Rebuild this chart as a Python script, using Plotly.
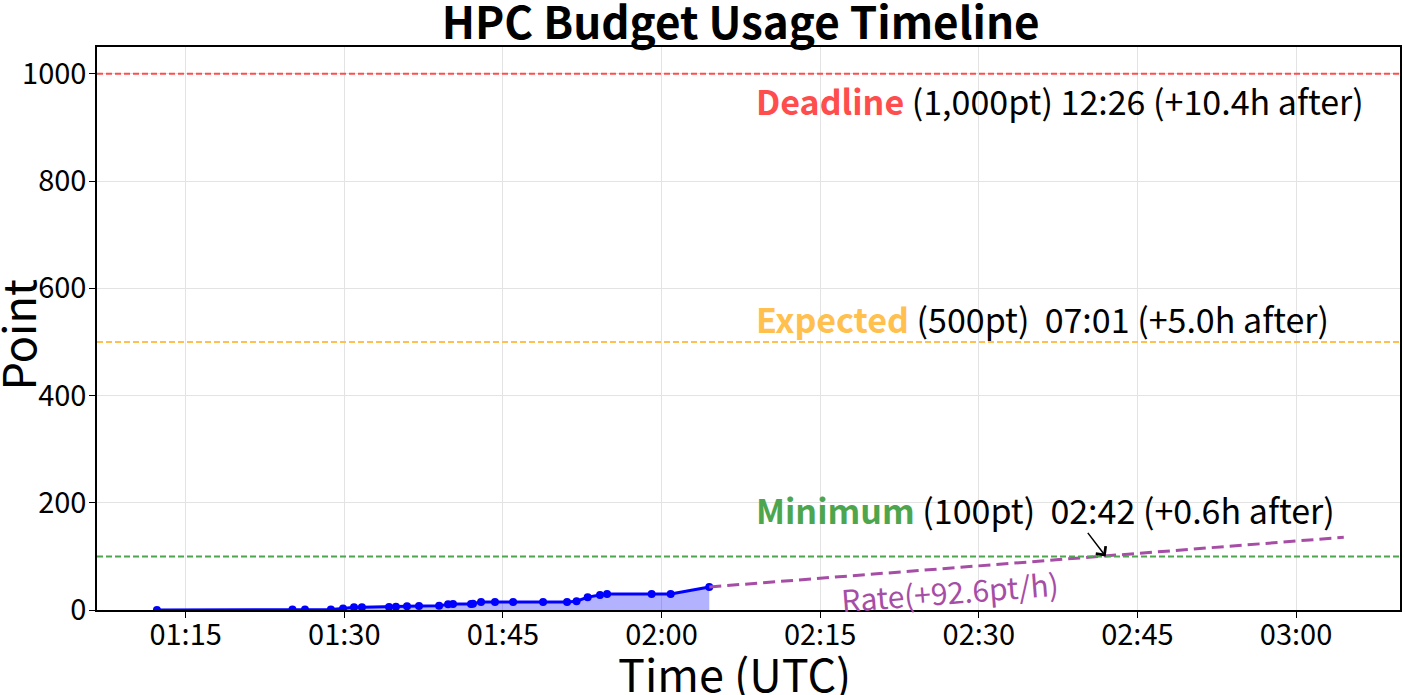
import pandas as pd
import plotly.graph_objects as go

# ===== DADOS =====
day = "2025-01-01 "
times = ["01:12:17", "01:25:06", "01:26:17", "01:28:44", "01:29:53", "01:30:55",
         "01:31:40", "01:34:14", "01:34:53", "01:35:56", "01:37:04", "01:38:58",
         "01:39:49", "01:40:17", "01:41:59", "01:42:10", "01:42:56", "01:44:15",
         "01:45:58", "01:48:48", "01:51:04", "01:51:58", "01:53:01", "01:54:11",
         "01:54:51", "01:59:04", "02:00:52", "02:04:31"]
points = [0, 1, 1, 1, 3, 5,
          5, 5.5, 6, 7, 7.5, 8,
          10.5, 11, 11, 11.5, 15, 15,
          15, 15, 15, 16.5, 24, 28,
          30, 30, 30, 43]

rate_per_h = 92.6
goal_names = ["Deadline", "Expected", "Minimum"]
goal_values = [1000, 500, 100]
goal_colors = ["#ff4d4d", "#ffc04d", "#4da64d"]
goal_texts = ["(1,000pt) 12:26 (+10.4h after)",
              "(500pt) &nbsp;07:01 (+5.0h after)",
              "(100pt) &nbsp;02:42 (+0.6h after)"]
goal_label_y = [950, 543, 188]
label_x = day + "02:08:45"
min_cross_time = day + "02:42:00"

x_range = [day + "01:06:37", day + "03:09:50"]
y_range = [0, 1050]

t = pd.to_datetime([day + s for s in times])

# projecao linear de 1 hora a partir do ultimo ponto
t_proj = [t[-1], t[-1] + pd.Timedelta(hours=1)]
v_proj = [points[-1], points[-1] + rate_per_h]

FONT = "Noto Sans CJK JP"
purple = "#a64da6"

fig = go.Figure()

fig.add_trace(go.Scatter(
    x=t, y=points, mode="lines+markers",
    line=dict(color="#0000ff", width=3),
    marker=dict(color="#0000ff", size=8),
    fill="tozeroy", fillcolor="rgba(0,0,255,0.3)",
    showlegend=False
))

fig.add_trace(go.Scatter(
    x=t_proj, y=v_proj, mode="lines",
    line=dict(color=purple, width=3, dash="12px,6px"),
    showlegend=False
))

for name, val, col, txt, ly in zip(goal_names, goal_values, goal_colors, goal_texts, goal_label_y):
    fig.add_hline(y=val, line=dict(color=col, width=2, dash="6px,3px"))
    fig.add_annotation(
        x=label_x, y=ly, xanchor="left", yanchor="middle", showarrow=False,
        text=f"<b><span style='color:{col}'>{name}</span></b> {txt}",
        font=dict(family=FONT, size=34, color="black")
    )

# seta para o cruzamento do minimo
fig.add_annotation(
    x=min_cross_time, y=goal_values[2], text="", showarrow=True,
    ax=-19, ay=-25, arrowhead=4, arrowsize=1.6, arrowwidth=1.5, arrowcolor="black"
)

# texto da taxa
fig.add_annotation(
    x=day + "02:27:17", y=36, text="Rate(+92.6pt/h)", showarrow=False,
    textangle=-4.4, font=dict(family=FONT, size=30, color=purple)
)

# titulos dos eixos
fig.add_annotation(
    x=0.4896, y=-0.111, xref="paper", yref="paper", xanchor="center", yanchor="middle",
    text="Time (UTC)", showarrow=False, font=dict(family=FONT, size=45, color="black")
)
fig.add_annotation(
    x=-0.062, y=0.488, xref="paper", yref="paper", xanchor="center", yanchor="middle",
    text="Point", textangle=-90, showarrow=False,
    font=dict(family=FONT, size=45, color="black")
)

fig.update_layout(
    width=1405, height=695,
    margin=dict(l=97, r=5, t=47, b=85, autoexpand=False),
    plot_bgcolor="white", paper_bgcolor="white",
    font=dict(family=FONT, color="black"),
    title=dict(text="<b>HPC Budget Usage Timeline</b>", x=0.494, xref="paper",
               y=0.966, yanchor="middle", automargin=False,
               font=dict(size=44, family=FONT)),
)

fig.update_xaxes(
    range=x_range, tickformat="%H:%M", dtick=15 * 60 * 1000,
    tick0=day + "01:00:00", automargin=False,
    showgrid=True, gridcolor="#e3e3e3", gridwidth=1,
    showline=True, linecolor="black", linewidth=1.5, mirror=True,
    ticks="outside", ticklen=6, tickcolor="black", ticklabelstandoff=-8,
    tickfont=dict(size=29), zeroline=False
)
fig.update_yaxes(
    range=y_range, dtick=200, automargin=False,
    showgrid=True, gridcolor="#e3e3e3", gridwidth=1,
    showline=True, linecolor="black", linewidth=1.5, mirror=True,
    ticks="outside", ticklen=6, tickcolor="black", ticklabelstandoff=-3,
    tickfont=dict(size=29), zeroline=False
)

# sem margem do body para a figura ficar no canto da pagina
fig.write_html("out.html", config={"displayModeBar": False},
               post_script="document.body.style.margin='0';document.body.style.overflow='hidden';")
